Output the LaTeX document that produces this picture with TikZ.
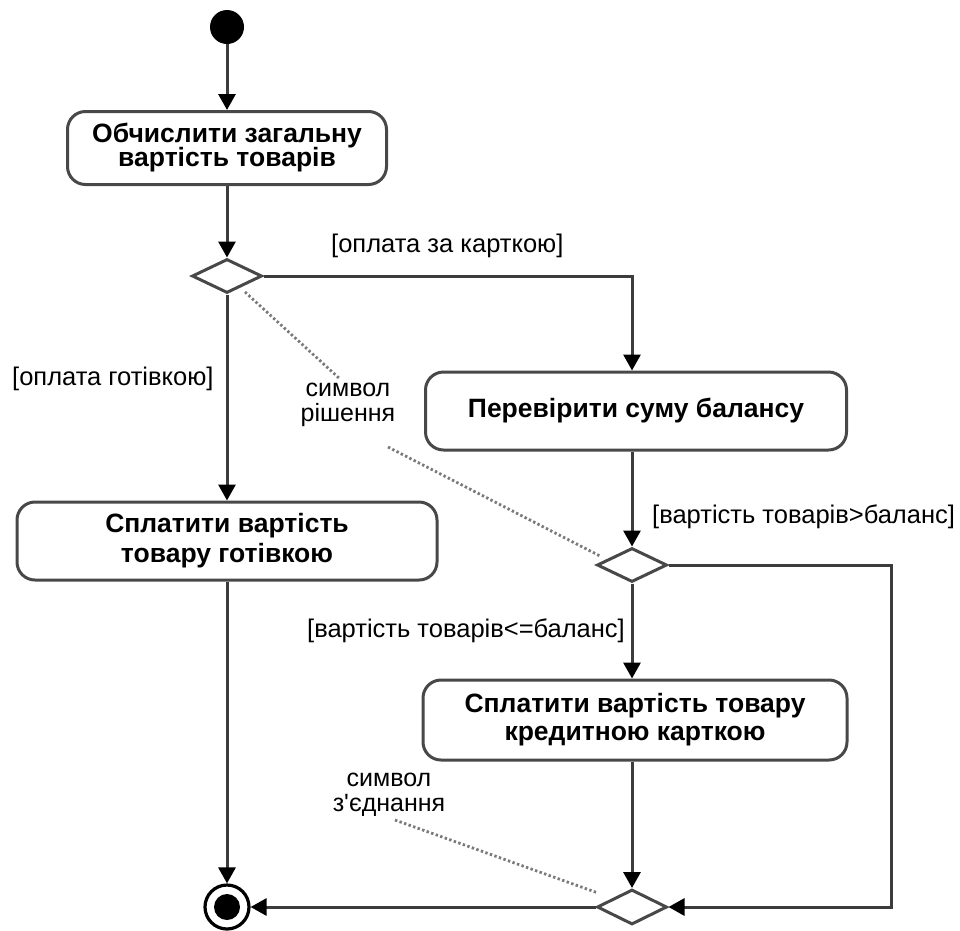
\documentclass[tikz,border=0pt]{standalone}
\usepackage{fontspec}
\setmainfont{Liberation Sans}
\usetikzlibrary{arrows.meta,shapes.geometric,calc}

\definecolor{linegray}{HTML}{3C3C3C}
\definecolor{boxgray}{HTML}{484848}
\definecolor{dotgray}{HTML}{7A7A7A}

\begin{document}
\begin{tikzpicture}[x=1pt,y=-1pt,
  flow/.style={draw=linegray, line width=3pt,
    -{Triangle[length=16pt,width=17pt,color=black]}},
  action/.style={draw=boxgray, line width=3pt, rounded corners=18pt,
    fill=white, align=center, inner sep=0pt, text=black,
    font=\fontsize{26.5}{30}\selectfont\bfseries},
  branch/.style={diamond, draw=boxgray, line width=3pt, fill=white,
    inner sep=0pt, minimum width=70pt, minimum height=34pt},
  guard/.style={inner sep=0pt, text=black, font=\fontsize{25.5}{28}\selectfont},
  remark/.style={inner sep=0pt, text=black, align=center,
    font=\fontsize{25}{25}\selectfont},
  notelink/.style={draw=dotgray, line width=2.8pt, dash pattern=on 2.4pt off 2.4pt}]

\useasboundingbox (0,0) rectangle (960,930);
\fill[white] (0,0) rectangle (960,930);

% initial and final states
\node[circle, fill=black, minimum size=34pt, inner sep=0pt] (start) at (227,27) {};
\node[circle, draw=black, line width=3.2pt, minimum size=44pt, inner sep=0pt] (end) at (227,907) {};
\fill[black] (end.center) circle (13);

% actions
\node[action, minimum width=319pt, minimum height=73pt] (b1) at (227,148)
  {Обчислити загальну\\[-6pt]вартість товарів};
\node[action, minimum width=421pt, minimum height=78pt] (b2) at (636,411)
  {Перевірити суму балансу};
\node[action, minimum width=420pt, minimum height=78pt] (b3) at (227,541)
  {Сплатити вартість\\товару готівкою};
\node[action, minimum width=424pt, minimum height=80pt] (b4) at (635,720)
  {Сплатити вартість товару\\[-2pt]кредитною карткою};

% decision and merge nodes
\node[branch] (d1) at (227,276) {};
\node[branch] (d2) at (632,565) {};
\node[branch, minimum height=35pt] (d3) at (632,907) {};
\coordinate (rx) at (891,700);

% guards
\node[guard, anchor=base west] at (331,252) {[оплата за карткою]};
\node[guard, anchor=base west] at (12,385) {[оплата готівкою]};
\node[guard, anchor=base west] at (652,523) {[вартість товарів>баланс]};
\node[guard, anchor=base west] at (307,637) {[вартість товарів<=баланс]};

% annotations
\node[remark] (n1) at (348,405) {символ\\рішення};
\node[remark] (n2) at (389,795) {символ\\з\textquotesingle єднання};

% control flow
\draw[flow] (start) -- (b1);
\draw[flow] (b1) -- (d1);
\draw[flow] (d1.east) -| (d2 |- b2.north);
\draw[flow] (d1.south) -- (b3.north);
\draw[flow] (d2 |- b2.south) -- (d2.north);
\draw[flow] (d2.south) -- (d2 |- b4.north);
\draw[flow] (d2 |- b4.south) -- (d3.north);
\draw[flow] (d2.east) -| (rx) |- (d3.east);
\draw[flow] (d3.west) -- (end.east);
\draw[flow] (b3.south) -- (end.north);

% annotation leaders
\coordinate (p1) at (245,292);
\coordinate (p2) at (340,379);
\coordinate (p3) at (388,447);
\coordinate (p4) at (600,556);
\coordinate (p5) at (395,820);
\coordinate (p6) at (598,893);
\draw[notelink] (p1) -- (p2);
\draw[notelink] (p3) -- (p4);
\draw[notelink] (p5) -- (p6);
\end{tikzpicture}
\end{document}
